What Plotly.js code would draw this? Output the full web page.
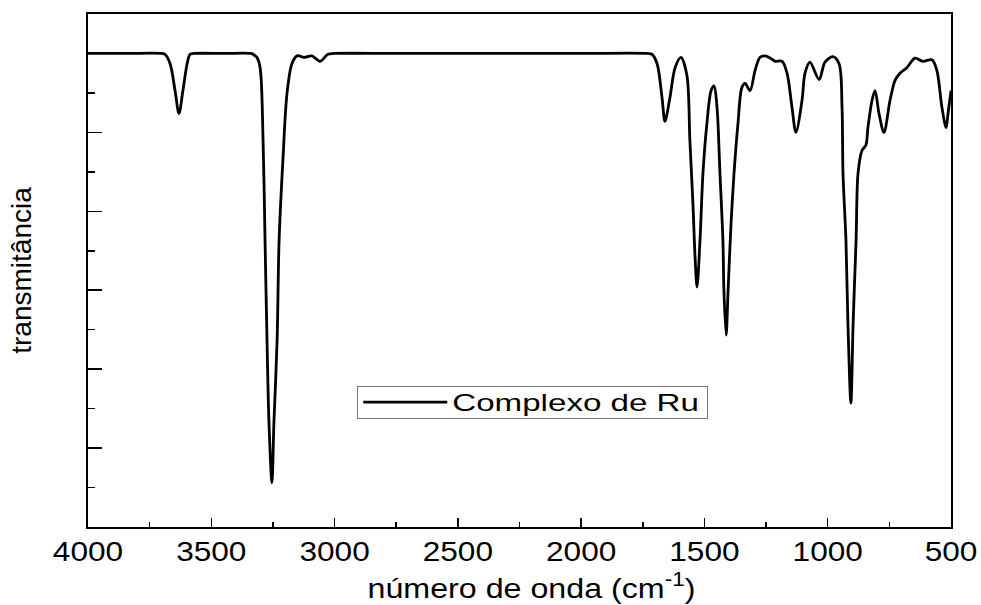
<!DOCTYPE html>
<html>
<head>
<meta charset="utf-8">
<script src="https://cdn.plot.ly/plotly-3.0.1.min.js"></script>
<style>
html,body{margin:0;padding:0;background:#fff;}
#chart{width:981px;height:605px;}
</style>
</head>
<body>
<div id="chart"></div>
<script>
// Wavenumber (cm^-1) and transmittance (arbitrary units)
const wavenumber = [
  4000, 3850, 3700, 3688, 3667, 3647, 3631, 3615, 3598, 3586, 3570,
  3450, 3340, 3331, 3315, 3302, 3290, 3282, 3274, 3266, 3254, 3246,
  3233, 3225, 3209, 3193, 3173, 3152, 3124, 3092, 3059, 3027,
  3000, 2750, 2500, 2250, 2000, 1730, 1713, 1692, 1672, 1660, 1640, 1619, 1595, 1571,
  1559, 1546, 1538, 1530, 1518, 1506, 1490, 1473, 1461, 1449,
  1437, 1425, 1421, 1412, 1404, 1392, 1380, 1364, 1348, 1335,
  1315, 1295, 1275, 1254, 1222, 1214, 1185, 1165, 1145, 1129,
  1104, 1092, 1072, 1035, 1011, 979, 954, 942, 938, 926,
  918, 906, 897, 885, 877, 861, 845, 837, 820, 808,
  792, 772, 747, 727, 707, 679, 646, 614, 577, 557,
  537, 520, 512, 500
];
const transmittance = [
  6.00, 6.00, 6.00, 5.99, 5.87, 5.53, 5.24, 5.53, 5.87, 5.99, 6.00,
  6.00, 6.00, 5.99, 5.95, 5.82, 4.90, 3.63, 2.37, 1.32, 0.56, 1.32,
  2.37, 3.63, 4.68, 5.49, 5.87, 5.97, 5.95, 5.97, 5.90, 5.99,
  6.00, 6.00, 6.00, 6.00, 6.00, 6.00, 5.99, 5.87, 5.44, 5.14, 5.44, 5.82, 5.95, 5.72,
  4.90, 4.05, 3.42, 3.04, 3.63, 4.48, 5.11, 5.53, 5.59, 5.32,
  4.48, 3.63, 3.00, 2.43, 3.00, 3.85, 4.48, 5.11, 5.57, 5.62,
  5.53, 5.78, 5.95, 5.97, 5.92, 5.90, 5.90, 5.75, 5.32, 5.00,
  5.41, 5.75, 5.89, 5.67, 5.89, 5.96, 5.87, 5.32, 4.48, 3.63,
  2.58, 1.57, 2.58, 3.63, 4.48, 4.77, 4.84, 5.06, 5.41, 5.53,
  5.24, 5.00, 5.41, 5.66, 5.75, 5.82, 5.94, 5.90, 5.92, 5.78,
  5.32, 5.06, 5.24, 5.53
];
const seriesName = 'Complexo de Ru';
const xTicks = [4000, 3500, 3000, 2500, 2000, 1500, 1000, 500];

const trace = {
  x: wavenumber,
  y: transmittance,
  type: 'scatter',
  mode: 'lines',
  name: seriesName,
  line: {color: '#000', width: 2.8, shape: 'spline', smoothing: 0.9}
};

const font = 'Arial, "Liberation Sans", sans-serif';

const layout = {
  width: 981, height: 605,
  margin: {l: 88, r: 30, t: 14, b: 78},
  paper_bgcolor: '#fff', plot_bgcolor: '#fff',
  showlegend: true,
  font: {family: font, color: '#000'},
  xaxis: {
    range: [4000, 500],
    tickvals: xTicks,
    ticktext: xTicks.map(String),
    ticks: 'inside', ticklen: 9, tickwidth: 1.5, tickcolor: '#000',
    minor: {dtick: 250, tick0: 0, ticks: 'inside', ticklen: 5, tickwidth: 1.5, tickcolor: '#000'},
    showgrid: false, zeroline: false,
    showline: true, linecolor: '#000', linewidth: 1.6, mirror: true,
    tickfont: {size: 27, family: font, color: '#000'},
    title: {text: 'número de onda (cm<sup>-1</sup>)', font: {size: 28, family: font, color: '#000'}, standoff: 12}
  },
  yaxis: {
    range: [0, 6.5],
    dtick: 1, tick0: 0,
    ticks: 'inside', ticklen: 14, tickwidth: 1.5, tickcolor: '#000',
    minor: {dtick: 0.5, tick0: 0, ticks: 'inside', ticklen: 7, tickwidth: 1.5, tickcolor: '#000'},
    showticklabels: false,
    showgrid: false, zeroline: false,
    showline: true, linecolor: '#000', linewidth: 1.6, mirror: true,
    title: {text: 'transmitância', font: {size: 28, family: font, color: '#000'}, standoff: 46}
  },
  legend: {
    x: 0.312, y: 0.275, xanchor: 'left', yanchor: 'top',
    bgcolor: '#fff', bordercolor: '#777', borderwidth: 1,
    font: {size: 24, family: font, color: '#000'},
    itemwidth: 84
  }
};

Plotly.newPlot('chart', [trace], layout, {displayModeBar: false, staticPlot: true}).then(function (gd) {
  // widen the Arial-like text horizontally as in the reference
  function stretch(sel, f) {
    gd.querySelectorAll(sel).forEach(function (t) {
      var L = t.getComputedTextLength();
      if (L > 0) {
        t.setAttribute('textLength', (L * f).toFixed(1));
        t.setAttribute('lengthAdjust', 'spacingAndGlyphs');
      }
    });
  }
  stretch('.xtick text', 1.17);
  stretch('.g-xtitle text', 1.15);
  stretch('.legendtext', 1.38);
  var xt = gd.querySelector('.g-xtitle');
  if (xt) xt.setAttribute('transform', 'translate(12,0)');
  var bg = gd.querySelector('.legend rect.bg');
  if (bg) {
    bg.setAttribute('width', 350);
    bg.setAttribute('height', 32);
  }
  var sb = gd.querySelector('.legend .scrollbox');
  if (sb) {
    sb.removeAttribute('clip-path');
    sb.style.clipPath = 'none';
    sb.setAttribute('transform', 'translate(0,-7)');
  }
});
</script>
</body>
</html>
